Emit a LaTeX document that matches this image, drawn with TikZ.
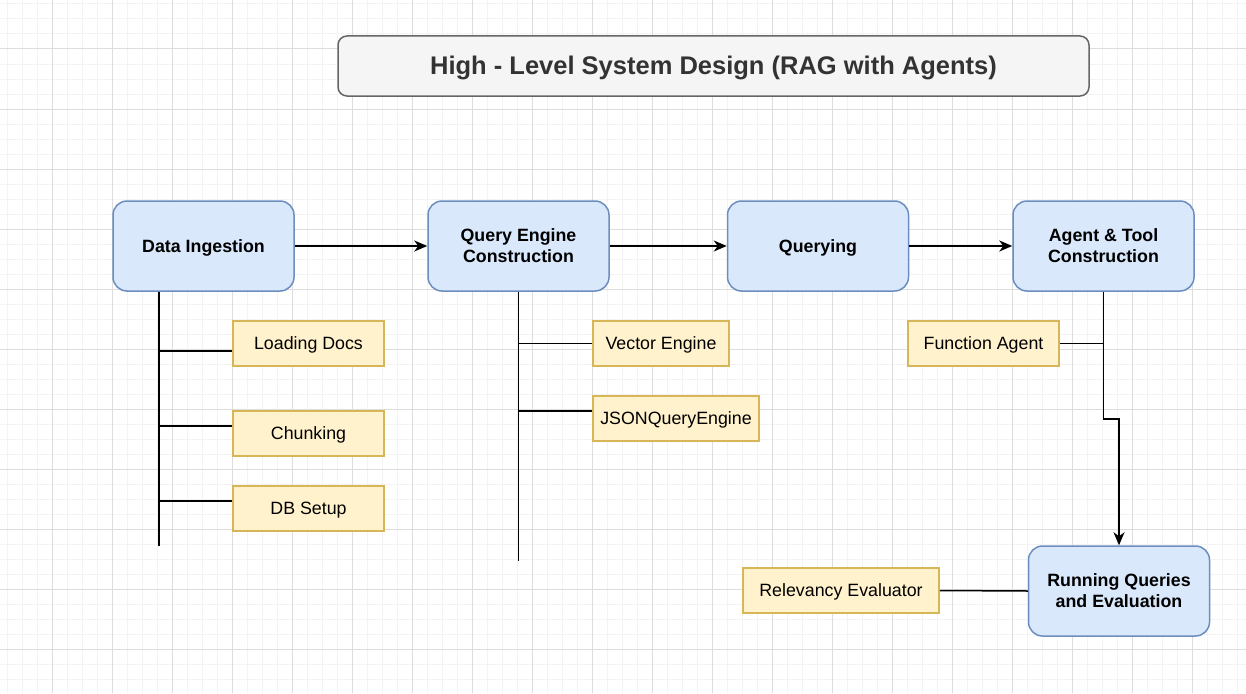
\documentclass[tikz,border=0pt]{standalone}
\usepackage{fontspec}
\setmainfont{Liberation Sans}
\usetikzlibrary{arrows.meta}

\definecolor{blockfill}{HTML}{DAE8FC}
\definecolor{blockline}{HTML}{6C8EBF}
\definecolor{subfill}{HTML}{FFF2CC}
\definecolor{subline}{HTML}{D6B656}
\definecolor{titlefill}{HTML}{F5F5F5}
\definecolor{titleline}{HTML}{666666}
\definecolor{titletext}{HTML}{333333}
\definecolor{gridmin}{RGB}{243,243,243}
\definecolor{gridmaj}{RGB}{221,221,221}

\tikzset{
    blockbox/.style={draw=blockline, fill=blockfill, line width=1.5pt, rounded corners=14pt,
        minimum width=181pt, minimum height=90pt, align=center,
        font=\fontsize{17.8}{21}\selectfont\bfseries},
    subbox/.style={draw=subline, fill=subfill, line width=1.5pt,
        minimum height=45pt, font=\fontsize{17.8}{21}\selectfont, oneline},
    titlebox/.style={draw=titleline, fill=titlefill, line width=1.5pt, rounded corners=9pt,
        minimum width=751pt, minimum height=60pt, text=titletext,
        font=\fontsize{25.5}{30}\selectfont\bfseries, text height=23.1pt, text depth=5.4pt},
    oneline/.style={text height=16.1pt, text depth=3.8pt},
    link/.style={line width=1.5pt},
    gridminor/.style={draw=gridmin, line width=1pt},
    gridmajor/.style={draw=gridmaj, line width=1pt}
}

\begin{document}
\begin{tikzpicture}[x=1pt, y=-1pt, >={Stealth[length=13pt, width=11pt, inset=4pt]}]
    \useasboundingbox (0,0) rectangle (1246,693);

    % Background grid
    \foreach \x in {7,22,...,1246} \draw[gridminor] (\x,0) -- (\x,693);
    \foreach \y in {4,19,...,693} \draw[gridminor] (0,\y) -- (1246,\y);
    \foreach \x in {52,112,...,1246} \draw[gridmajor] (\x,0) -- (\x,693);
    \foreach \y in {49,109,...,693} \draw[gridmajor] (0,\y) -- (1246,\y);

    % Title
    \node[titlebox] (title) at (713.5,66) {High - Level System Design (RAG with Agents)};

    % Main stages
    \node[blockbox, oneline] (dataing) at (203.5,246) {Data Ingestion};
    \node[blockbox] (qengine) at (518.5,246) {Query Engine\\Construction};
    \node[blockbox, oneline] (querying) at (818,246) {Querying};
    \node[blockbox] (agent) at (1103.5,246) {Agent \& Tool\\Construction};
    \node[blockbox] (running) at (1119,591) {Running Queries\\and Evaluation};

    % Sub steps
    \node[subbox, minimum width=151pt] (ldocs) at (308.5,343.5) {Loading Docs};
    \node[subbox, minimum width=151pt] (chunk) at (308.5,433.5) {Chunking};
    \node[subbox, minimum width=151pt] (dbsetup) at (308.5,508.5) {DB Setup};
    \node[subbox, minimum width=136pt] (vecengine) at (661,343.5) {Vector Engine};
    \node[subbox, minimum width=166pt] (jsonqe) at (676,418.5) {JSONQueryEngine};
    \node[subbox, minimum width=151pt] (funcagent) at (983.5,343.5) {Function Agent};
    \node[subbox, minimum width=196pt] (releval) at (841,590.5) {Relevancy Evaluator};

    % Flow between stages
    \draw[link, ->] (dataing) -- (qengine);
    \draw[link, ->] (qengine) -- (querying);
    \draw[link, ->] (querying) -- (agent);
    \draw[link, ->] (agent.south) -- ++(0,127) -| (running.north);

    % Data ingestion branches
    \coordinate (diend) at (159,546);
    \coordinate (ldocsin) at ([yshift=-7.5pt]ldocs.west);
    \coordinate (chunkin) at ([yshift=7.5pt]chunk.west);
    \coordinate (dbsetupin) at ([yshift=7.5pt]dbsetup.west);
    \draw[link] (dataing.south -| diend) -- (diend);
    \draw[link] (diend |- ldocsin) -- (ldocsin);
    \draw[link] (diend |- chunkin) -- (chunkin);
    \draw[link] (diend |- dbsetupin) -- (dbsetupin);

    % Query engine branches
    \coordinate (qeend) at (518.5,561);
    \coordinate (jsonqein) at ([yshift=7.5pt]jsonqe.west);
    \draw[link] (qengine.south) -- (qeend);
    \draw[link] (qeend |- vecengine.west) -- (vecengine.west);
    \draw[link] (qeend |- jsonqein) -- (jsonqein);

    % Agent and evaluation branches
    \draw[link] (funcagent.east) -- (funcagent.east -| agent.south);
    \draw[link] (releval.east) -- (running.west);
\end{tikzpicture}
\end{document}
